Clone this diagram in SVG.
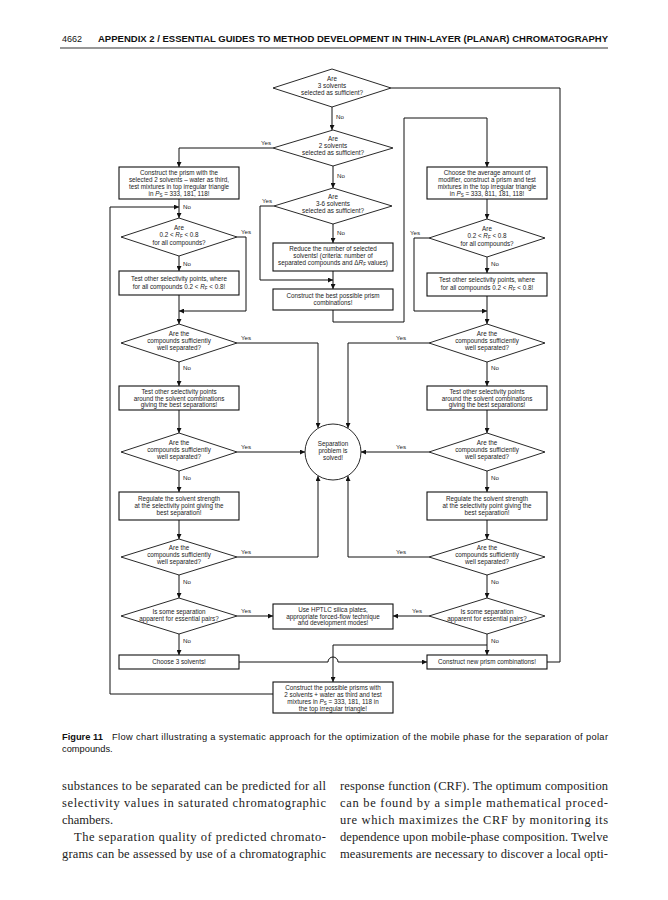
<svg xmlns="http://www.w3.org/2000/svg" width="668" height="900" viewBox="0 0 668 900">
<style>
.t{font-family:"Liberation Sans",Arial,sans-serif;font-size:6.3px;fill:#1a1a1a;text-anchor:middle}
.l{font-family:"Liberation Sans",Arial,sans-serif;font-size:6.2px;fill:#1a1a1a}
.box{fill:#fff;stroke:#111;stroke-width:1.1}
.dia{fill:#fff;stroke:#111;stroke-width:0.9}
.ln{fill:none;stroke:#111;stroke-width:1}
.i{font-style:italic}
.body{font-family:"Liberation Serif","Times New Roman",serif;font-size:12.5px;fill:#222}
.cap{font-family:"Liberation Sans",Arial,sans-serif;font-size:9.3px;fill:#111}
</style>
<defs>
<marker id="a" markerWidth="5" markerHeight="5" refX="5" refY="2.5" orient="auto" markerUnits="userSpaceOnUse"><path d="M0,0 L5,2.5 L0,5 z" fill="#111"/></marker>
</defs>
<rect width="668" height="900" fill="#fff"/>
<!-- header -->
<text x="62" y="42" class="cap" style="font-size:9px">4662</text>
<text x="98" y="42" class="cap" style="font-size:9px;font-weight:bold" textLength="510" lengthAdjust="spacingAndGlyphs">APPENDIX 2 / ESSENTIAL GUIDES TO METHOD DEVELOPMENT IN THIN-LAYER (PLANAR) CHROMATOGRAPHY</text>
<line x1="60" y1="48" x2="608" y2="48" stroke="#333" stroke-width="1.2"/>

<g id="connectors">
<path class="ln" d="M332,107 V130" marker-end="url(#a)"/>
<path class="ln" d="M273,148 H179 V167" marker-end="url(#a)"/>
<path class="ln" d="M333,166 V188" marker-end="url(#a)"/>
<path class="ln" d="M274,206 H260 V280 H333" marker-end="url(#a)"/>
<path class="ln" d="M333,224 V243" marker-end="url(#a)"/>
<path class="ln" d="M333,271 V289" marker-end="url(#a)"/>
<path class="ln" d="M333,310 V322 H404 V118 H487 V167" marker-end="url(#a)"/>
<path class="ln" d="M391,88 H560 V662 H547"/>
<path class="ln" d="M179,199 V218" marker-end="url(#a)"/>
<path class="ln" d="M273,694 H110 V207 H179" marker-end="url(#a)"/>
<path class="ln" d="M237,237 H246 V311 H179" marker-end="url(#a)"/>
<path class="ln" d="M179,256 V271" marker-end="url(#a)"/>
<path class="ln" d="M179,295 V324" marker-end="url(#a)"/>
<path class="ln" d="M237,343 H318 V428" marker-end="url(#a)"/>
<path class="ln" d="M179,362 V386" marker-end="url(#a)"/>
<path class="ln" d="M179,410 V433" marker-end="url(#a)"/>
<path class="ln" d="M237,452 H305" marker-end="url(#a)"/>
<path class="ln" d="M179,471 V492" marker-end="url(#a)"/>
<path class="ln" d="M179,520 V539" marker-end="url(#a)"/>
<path class="ln" d="M237,557 H318 V476" marker-end="url(#a)"/>
<path class="ln" d="M179,575 V598" marker-end="url(#a)"/>
<path class="ln" d="M237,616 H273" marker-end="url(#a)"/>
<path class="ln" d="M179,634 V655" marker-end="url(#a)"/>
<path class="ln" d="M239,662 H328 A5,5 0 0 1 338,662 H427" marker-end="url(#a)"/>
<path class="ln" d="M487,645 H333 V682" marker-end="url(#a)"/>
<path class="ln" d="M487,199 V219" marker-end="url(#a)"/>
<path class="ln" d="M429,238 H414 V311 H487" marker-end="url(#a)"/>
<path class="ln" d="M487,257 V273" marker-end="url(#a)"/>
<path class="ln" d="M487,296 V324" marker-end="url(#a)"/>
<path class="ln" d="M429,343 H348 V428" marker-end="url(#a)"/>
<path class="ln" d="M487,362 V386" marker-end="url(#a)"/>
<path class="ln" d="M487,410 V433" marker-end="url(#a)"/>
<path class="ln" d="M429,452 H361" marker-end="url(#a)"/>
<path class="ln" d="M487,471 V492" marker-end="url(#a)"/>
<path class="ln" d="M487,520 V539" marker-end="url(#a)"/>
<path class="ln" d="M429,557 H348 V476" marker-end="url(#a)"/>
<path class="ln" d="M487,575 V598" marker-end="url(#a)"/>
<path class="ln" d="M429,616 H393" marker-end="url(#a)"/>
<path class="ln" d="M487,634 V655" marker-end="url(#a)"/>
</g>

<g id="labels">
<text class="l" x="336" y="119">No</text>
<text class="l" x="261" y="145">Yes</text>
<text class="l" x="337" y="178">No</text>
<text class="l" x="262" y="203">Yes</text>
<text class="l" x="337" y="235">No</text>
<text class="l" x="183" y="209">No</text>
<text class="l" x="241" y="234">Yes</text>
<text class="l" x="183" y="266">No</text>
<text class="l" x="241" y="340">Yes</text>
<text class="l" x="183" y="370">No</text>
<text class="l" x="241" y="449">Yes</text>
<text class="l" x="183" y="480">No</text>
<text class="l" x="241" y="554">Yes</text>
<text class="l" x="183" y="584">No</text>
<text class="l" x="241" y="613">Yes</text>
<text class="l" x="183" y="643">No</text>
<text class="l" x="410" y="235">Yes</text>
<text class="l" x="491" y="266">No</text>
<text class="l" x="396" y="340">Yes</text>
<text class="l" x="491" y="370">No</text>
<text class="l" x="396" y="449">Yes</text>
<text class="l" x="491" y="480">No</text>
<text class="l" x="396" y="554">Yes</text>
<text class="l" x="491" y="584">No</text>
<text class="l" x="412" y="613">Yes</text>
<text class="l" x="491" y="643">No</text>
</g>

<g id="d1"><polygon class="dia" points="332,69 391,88 332,107 273,88"/>
<text class="t" x="332" y="81">Are</text><text class="t" x="332" y="88">3 solvents</text><text class="t" x="332" y="95">selected as sufficient?</text></g>
<g id="d2"><polygon class="dia" points="333,130 393,148 333,166 273,148"/>
<text class="t" x="333" y="141">Are</text><text class="t" x="333" y="148">2 solvents</text><text class="t" x="333" y="155">selected as sufficient?</text></g>
<g id="d3"><polygon class="dia" points="333,188 392,206 333,224 274,206"/>
<text class="t" x="333" y="199">Are</text><text class="t" x="333" y="206">3-6 solvents</text><text class="t" x="333" y="213">selected as sufficient?</text></g>
<g id="m1"><rect class="box" x="273" y="243" width="120" height="28"/>
<text class="t" x="333" y="251">Reduce the number of selected</text><text class="t" x="333" y="258">solvents! (criteria: number of</text><text class="t" x="333" y="265">separated compounds and Δ<tspan class="i">R</tspan><tspan font-size="4.5" dy="1">F</tspan><tspan dy="-1"> values)</tspan></text></g>
<g id="m2"><rect class="box" x="273" y="289" width="120" height="21"/>
<text class="t" x="333" y="298">Construct the best possible prism</text><text class="t" x="333" y="305">combinations!</text></g>

<g id="l1"><rect class="box" x="119" y="167" width="120" height="32"/>
<text class="t" x="179" y="175">Construct the prism with the</text><text class="t" x="179" y="182">selected 2 solvents – water as third,</text><text class="t" x="179" y="189">test mixtures in top irregular triangle</text><text class="t" x="179" y="196">in <tspan class="i">P</tspan><tspan font-size="4.5" dy="1">S</tspan><tspan dy="-1"> = 333, 181, 118!</tspan></text></g>
<g id="ld1"><polygon class="dia" points="179,218 237,237 179,256 121,237"/>
<text class="t" x="179" y="230">Are</text><text class="t" x="179" y="237">0.2 &lt; <tspan class="i">R</tspan><tspan font-size="4.5" dy="1">F</tspan><tspan dy="-1"> &lt; 0.8</tspan></text><text class="t" x="179" y="245">for all compounds?</text></g>
<g id="l2"><rect class="box" x="119" y="271" width="120" height="24"/>
<text class="t" x="179" y="281">Test other selectivity points, where</text><text class="t" x="179" y="289">for all compounds 0.2 &lt; <tspan class="i">R</tspan><tspan font-size="4.5" dy="1">F</tspan><tspan dy="-1"> &lt; 0.8!</tspan></text></g>
<g id="ld2"><polygon class="dia" points="179,324 237,343 179,362 121,343"/>
<text class="t" x="179" y="336">Are the</text><text class="t" x="179" y="343">compounds sufficiently</text><text class="t" x="179" y="350">well separated?</text></g>
<g id="l3"><rect class="box" x="119" y="386" width="120" height="24"/>
<text class="t" x="179" y="394">Test other selectivity points</text><text class="t" x="179" y="400.5">around the solvent combinations</text><text class="t" x="179" y="407">giving the best separations!</text></g>
<g id="ld3"><polygon class="dia" points="179,433 237,452 179,471 121,452"/>
<text class="t" x="179" y="445">Are the</text><text class="t" x="179" y="452">compounds sufficiently</text><text class="t" x="179" y="459">well separated?</text></g>
<g id="l4"><rect class="box" x="119" y="492" width="120" height="28"/>
<text class="t" x="179" y="501">Regulate the solvent strength</text><text class="t" x="179" y="508">at the selectivity point giving the</text><text class="t" x="179" y="515">best separation!</text></g>
<g id="ld4"><polygon class="dia" points="179,539 237,557 179,575 121,557"/>
<text class="t" x="179" y="550">Are the</text><text class="t" x="179" y="557">compounds sufficiently</text><text class="t" x="179" y="564">well separated?</text></g>
<g id="ld5"><polygon class="dia" points="179,598 237,616 179,634 121,616"/>
<text class="t" x="179" y="614">Is some separation</text><text class="t" x="179" y="621">apparent for essential pairs?</text></g>
<g id="choose"><rect class="box" x="119" y="655" width="120" height="14"/>
<text class="t" x="179" y="664">Choose 3 solvents!</text></g>

<g id="circle"><circle cx="333" cy="452" r="28" class="dia" stroke-width="1"/>
<text class="t" x="333" y="446">Separation</text><text class="t" x="333" y="453">problem is</text><text class="t" x="333" y="460">solved!</text></g>
<g id="hptlc"><rect class="box" x="273" y="604" width="120" height="25"/>
<text class="t" x="333" y="612">Use HPTLC silica plates,</text><text class="t" x="333" y="618.5">appropriate forced-flow technique</text><text class="t" x="333" y="625">and development modes!</text></g>
<g id="bottom"><rect class="box" x="273" y="682" width="120" height="31"/>
<text class="t" x="333" y="689.5">Construct the possible prisms with</text><text class="t" x="333" y="696.5">2 solvents + water as third and test</text><text class="t" x="333" y="703.5">mixtures in <tspan class="i">P</tspan><tspan font-size="4.5" dy="1">S</tspan><tspan dy="-1"> = 333, 181, 118 in</tspan></text><text class="t" x="333" y="710.5">the top irregular triangle!</text></g>

<g id="r1"><rect class="box" x="427" y="167" width="120" height="32"/>
<text class="t" x="487" y="175">Choose the average amount of</text><text class="t" x="487" y="182">modifier, construct a prism and test</text><text class="t" x="487" y="189">mixtures in the top irregular triangle</text><text class="t" x="487" y="196">in <tspan class="i">P</tspan><tspan font-size="4.5" dy="1">S</tspan><tspan dy="-1"> = 333, 811, 181, 118!</tspan></text></g>
<g id="rd1"><polygon class="dia" points="487,219 545,238 487,257 429,238"/>
<text class="t" x="487" y="231">Are</text><text class="t" x="487" y="238">0.2 &lt; <tspan class="i">R</tspan><tspan font-size="4.5" dy="1">F</tspan><tspan dy="-1"> &lt; 0.8</tspan></text><text class="t" x="487" y="246">for all compounds?</text></g>
<g id="r2"><rect class="box" x="427" y="273" width="120" height="23"/>
<text class="t" x="487" y="282">Test other selectivity points, where</text><text class="t" x="487" y="290">for all compounds 0.2 &lt; <tspan class="i">R</tspan><tspan font-size="4.5" dy="1">F</tspan><tspan dy="-1"> &lt; 0.8!</tspan></text></g>
<g id="rd2"><polygon class="dia" points="487,324 545,343 487,362 429,343"/>
<text class="t" x="487" y="336">Are the</text><text class="t" x="487" y="343">compounds sufficiently</text><text class="t" x="487" y="350">well separated?</text></g>
<g id="r3"><rect class="box" x="427" y="386" width="120" height="24"/>
<text class="t" x="487" y="394">Test other selectivity points</text><text class="t" x="487" y="400.5">around the solvent combinations</text><text class="t" x="487" y="407">giving the best separations!</text></g>
<g id="rd3"><polygon class="dia" points="487,433 545,452 487,471 429,452"/>
<text class="t" x="487" y="445">Are the</text><text class="t" x="487" y="452">compounds sufficiently</text><text class="t" x="487" y="459">well separated?</text></g>
<g id="r4"><rect class="box" x="427" y="492" width="120" height="28"/>
<text class="t" x="487" y="501">Regulate the solvent strength</text><text class="t" x="487" y="508">at the selectivity point giving the</text><text class="t" x="487" y="515">best separation!</text></g>
<g id="rd4"><polygon class="dia" points="487,539 545,557 487,575 429,557"/>
<text class="t" x="487" y="550">Are the</text><text class="t" x="487" y="557">compounds sufficiently</text><text class="t" x="487" y="564">well separated?</text></g>
<g id="rd5"><polygon class="dia" points="487,598 545,616 487,634 429,616"/>
<text class="t" x="487" y="614">Is some separation</text><text class="t" x="487" y="621">apparent for essential pairs?</text></g>
<g id="newprism"><rect class="box" x="427" y="655" width="120" height="14"/>
<text class="t" x="487" y="664">Construct new prism combinations!</text></g>

<!-- caption -->
<text class="cap" x="62" y="740" font-weight="bold">Figure 11</text>
<text class="cap" x="112" y="740" textLength="496" lengthAdjust="spacing">Flow chart illustrating a systematic approach for the optimization of the mobile phase for the separation of polar</text>
<text class="cap" x="62" y="752">compounds.</text>

<!-- body text -->
<text class="body" x="62" y="790" textLength="264" lengthAdjust="spacing">substances to be separated can be predicted for all</text>
<text class="body" x="62" y="807" textLength="264" lengthAdjust="spacing">selectivity values in saturated chromatographic</text>
<text class="body" x="62" y="824">chambers.</text>
<text class="body" x="74" y="841" textLength="252" lengthAdjust="spacing">The separation quality of predicted chromato-</text>
<text class="body" x="62" y="858" textLength="264" lengthAdjust="spacing">grams can be assessed by use of a chromatographic</text>
<text class="body" x="340" y="790" textLength="268" lengthAdjust="spacing">response function (CRF). The optimum composition</text>
<text class="body" x="340" y="807" textLength="268" lengthAdjust="spacing">can be found by a simple mathematical proced-</text>
<text class="body" x="340" y="824" textLength="268" lengthAdjust="spacing">ure which maximizes the CRF by monitoring its</text>
<text class="body" x="340" y="841" textLength="268" lengthAdjust="spacing">dependence upon mobile-phase composition. Twelve</text>
<text class="body" x="340" y="858" textLength="268" lengthAdjust="spacing">measurements are necessary to discover a local opti-</text>
</svg>
